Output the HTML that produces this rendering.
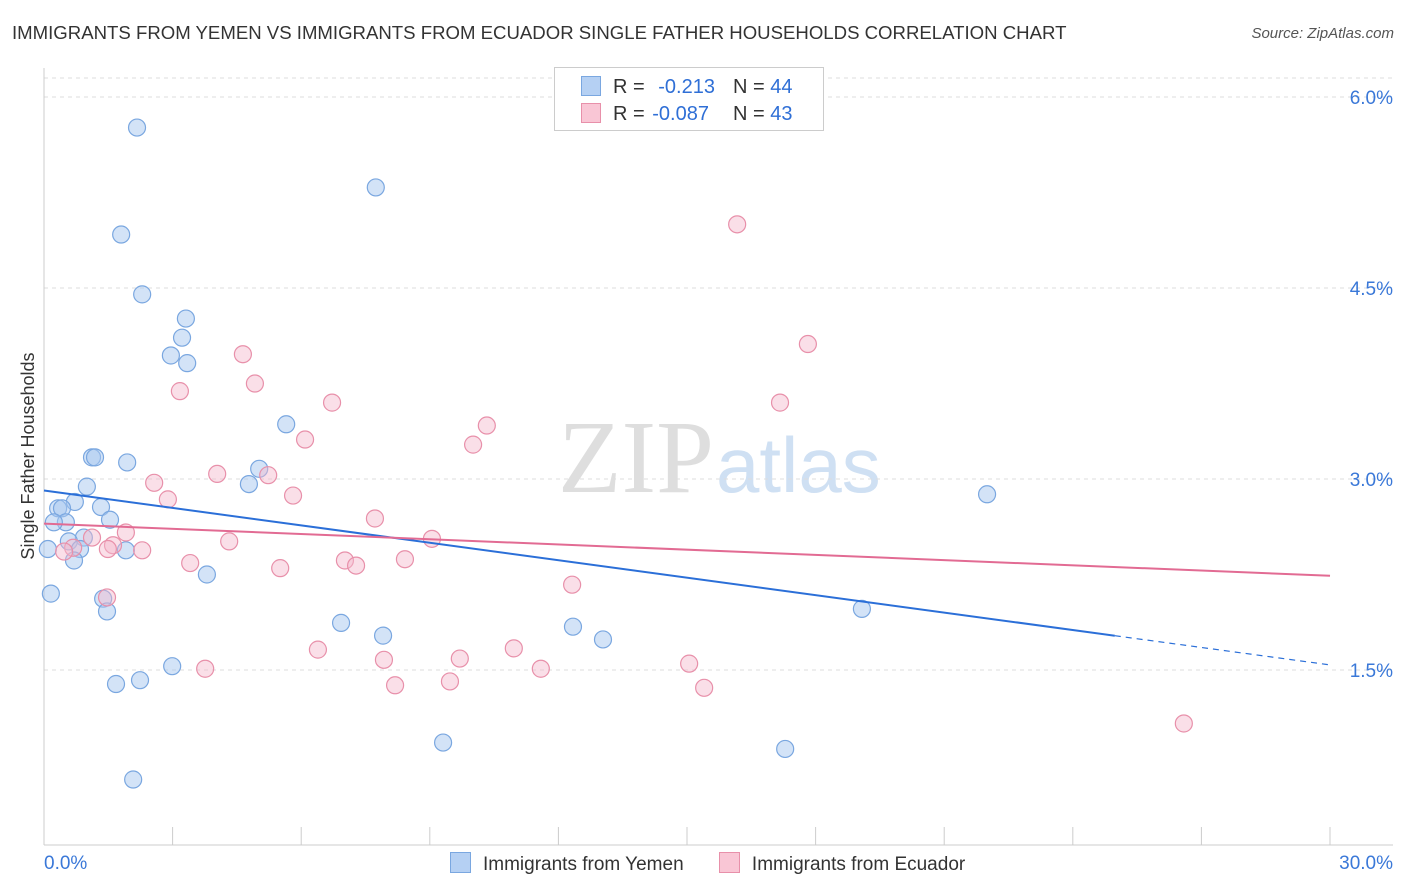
<!DOCTYPE html>
<html><head><meta charset="utf-8">
<style>
body{margin:0;background:#fff;font-family:"Liberation Sans",sans-serif;}
#wrap{position:relative;width:1406px;height:892px;overflow:hidden;}
.t{position:absolute;white-space:nowrap;}
</style></head>
<body>
<div id="wrap">
<div class="t" style="left:12px;top:22px;font-size:18.6px;color:#333;">IMMIGRANTS FROM YEMEN VS IMMIGRANTS FROM ECUADOR SINGLE FATHER HOUSEHOLDS CORRELATION CHART</div>
<div class="t" style="right:12px;top:25px;font-size:15px;color:#555;font-style:italic;">Source: ZipAtlas.com</div>
<svg id="svg" width="1406" height="892" style="position:absolute;left:0;top:0">
<text x="714" y="492" text-anchor="end" font-family="Liberation Serif" font-size="104" fill="#dedede">ZIP</text>
<text x="716" y="492" font-family="Liberation Sans" font-size="78" fill="#cfe0f3">atlas</text>
<g id="grid"></g><g id="axes"></g><g id="marks"></g>
<text transform="translate(34,456) rotate(-90)" text-anchor="middle" font-size="18" fill="#333">Single Father Households</text>
</svg>
<div style="position:absolute;left:554px;top:67px;width:268px;height:62px;border:1px solid #ccc;background:#fff;font-size:20px;">
 <div style="position:absolute;left:26px;top:8px;"><span style="display:inline-block;width:18px;height:18px;background:#b5d0f3;border:1px solid #7aa7e0;vertical-align:-3px;"></span><span style="color:#333;margin-left:12px;">R = </span><span style="color:#2f6fd6;margin-left:8px;">-0.213</span><span style="color:#333;margin-left:18px;">N = </span><span style="color:#2f6fd6;">44</span></div>
 <div style="position:absolute;left:26px;top:35px;"><span style="display:inline-block;width:18px;height:18px;background:#f9c6d5;border:1px solid #e890aa;vertical-align:-3px;"></span><span style="color:#333;margin-left:12px;">R = </span><span style="color:#2f6fd6;margin-left:2px;">-0.087</span><span style="color:#333;margin-left:24px;">N = </span><span style="color:#2f6fd6;">43</span></div>
</div>
<div style="position:absolute;left:450px;top:852px;font-size:19px;color:#333;">
<span><span style="display:inline-block;width:19px;height:19px;background:#b5d0f3;border:1px solid #7aa7e0;vertical-align:-3px;margin-right:12px;"></span>Immigrants from Yemen</span>
<span style="margin-left:30px;"><span style="display:inline-block;width:19px;height:19px;background:#f9c6d5;border:1px solid #e890aa;vertical-align:-3px;margin-right:12px;"></span>Immigrants from Ecuador</span>
</div>
</div>
<script>
const yemenX=[2.17,7.74,1.80,2.29,3.31,3.22,2.96,3.34,5.65,1.12,1.19,1.94,5.02,4.78,1.00,0.72,0.33,0.42,1.33,0.51,0.23,1.54,0.93,0.58,0.84,0.09,1.91,0.70,3.80,0.16,1.38,1.47,6.93,7.91,12.34,13.04,19.08,22.00,2.99,1.68,2.24,9.31,17.29,2.08];
const yemenY=[5.76,5.29,4.92,4.45,4.26,4.11,3.97,3.91,3.43,3.17,3.17,3.13,3.08,2.96,2.94,2.82,2.77,2.77,2.78,2.66,2.66,2.68,2.54,2.51,2.45,2.45,2.44,2.36,2.25,2.10,2.06,1.96,1.87,1.77,1.84,1.74,1.98,2.88,1.53,1.39,1.42,0.93,0.88,0.64];
const ecuadorX=[16.17,17.82,4.64,4.92,3.17,6.72,17.17,10.33,6.09,10.01,4.04,5.23,2.57,2.89,5.81,7.72,1.91,9.05,1.12,4.32,1.61,2.29,0.68,0.47,1.49,3.41,7.02,7.28,8.42,5.51,12.32,1.47,6.39,10.96,9.70,7.93,15.05,3.76,11.59,9.47,8.19,15.40,26.59];
const ecuadorY=[5.00,4.06,3.98,3.75,3.69,3.60,3.60,3.42,3.31,3.27,3.04,3.03,2.97,2.84,2.87,2.69,2.58,2.53,2.54,2.51,2.48,2.44,2.46,2.43,2.45,2.34,2.36,2.32,2.37,2.30,2.17,2.07,1.66,1.67,1.59,1.58,1.55,1.51,1.51,1.41,1.38,1.36,1.08];
const yemenTrend=[2.91,1.54];
const yemenSolidEnd=24.98;
const ecuadorTrend=[2.65,2.24];
const yTicks=[1.5,3.0,4.5,6.0];
const yTickLabels=["1.5%","3.0%","4.5%","6.0%"];
const xTickVals=[0,3,6,9,12,15,18,21,24,27,30];

const X=v=>44+v*42.867;
const Y=v=>670-(v-1.5)*127.33;
const NS="http://www.w3.org/2000/svg";
function mk(tag,attrs,parent){const e=document.createElementNS(NS,tag);for(const k in attrs)e.setAttribute(k,attrs[k]);document.getElementById(parent).appendChild(e);return e;}
yTicks.forEach((v,i)=>{
 const l=mk('line',{x1:44,x2:1393,y1:Y(v),y2:Y(v),stroke:'#ddd','stroke-dasharray':'4,4'},'grid');
 
 
 const t=mk('text',{x:1393,y:Y(v)+7,'text-anchor':'end','font-size':19,fill:'#3a78d8'},'axes');
 t.textContent=yTickLabels[i];
 
 
});
const topGrid=mk('line',{x1:44,x2:1393,y1:78,y2:78,stroke:'#ddd','stroke-dasharray':'4,4'},'grid');


const ya=mk('line',{x1:44,x2:44,y1:68,y2:845,stroke:'#ccc'},'axes');


const xa=mk('line',{x1:44,x2:1393,y1:845,y2:845,stroke:'#ccc'},'axes');


xTickVals.forEach(v=>{
 const t=mk('line',{x1:X(v),x2:X(v),y1:827,y2:845,stroke:'#ccc'},'axes');
 
 
});
const xl0=mk('text',{x:44,y:869,'font-size':19,fill:'#3a78d8'},'axes');xl0.textContent='0.0%';


const xl1=mk('text',{x:1393,y:869,'text-anchor':'end','font-size':19,fill:'#3a78d8'},'axes');xl1.textContent='30.0%';



yemenX.forEach((x,i)=>{
 const c=mk('circle',{cx:X(x),cy:Y(yemenY[i]),r:8.5,fill:'rgba(168,200,240,0.5)',stroke:'#7aa7e0','stroke-width':1.2},'marks');
 
 
});
ecuadorX.forEach((x,i)=>{
 const c=mk('circle',{cx:X(x),cy:Y(ecuadorY[i]),r:8.5,fill:'rgba(245,184,203,0.45)',stroke:'#e890aa','stroke-width':1.2},'marks');
 
 
});
const yAt=x=>yemenTrend[0]+(yemenTrend[1]-yemenTrend[0])*x/30;
const l1=mk('line',{x1:X(0),y1:Y(yemenTrend[0]),x2:X(yemenSolidEnd),y2:Y(yAt(yemenSolidEnd)),stroke:'#2b6fd8','stroke-width':2},'marks');


const l2=mk('line',{x1:X(yemenSolidEnd),y1:Y(yAt(yemenSolidEnd)),x2:X(30),y2:Y(yemenTrend[1]),stroke:'#2b6fd8','stroke-width':1.2,'stroke-dasharray':'6,5'},'marks');


const l3=mk('line',{x1:X(0),y1:Y(ecuadorTrend[0]),x2:X(30),y2:Y(ecuadorTrend[1]),stroke:'#e26b93','stroke-width':2},'marks');


</script>
</body></html>
